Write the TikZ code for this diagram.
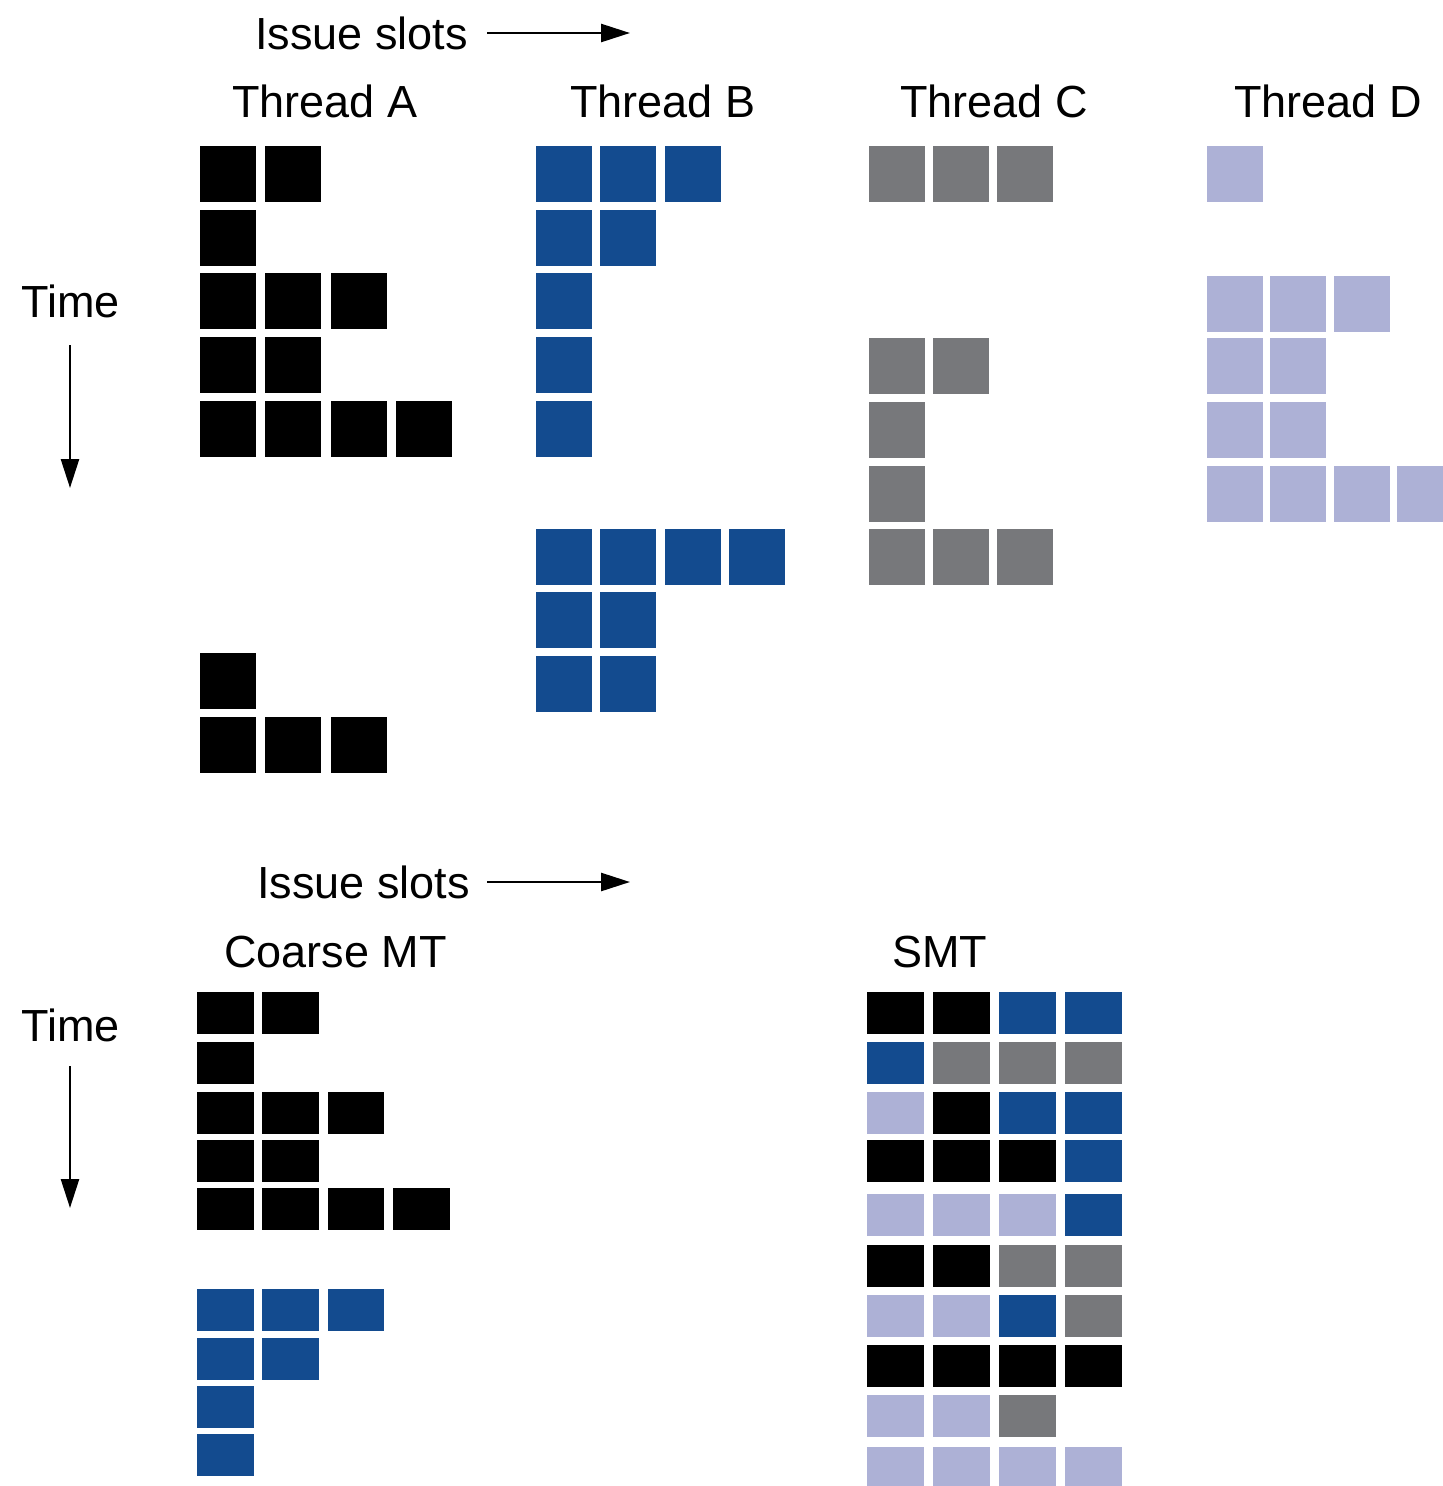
\documentclass[tikz,border=0pt]{standalone}
\usepackage{fontspec}
\setmainfont{Liberation Sans}
\usetikzlibrary{arrows.meta}

% thread colours
\definecolor{thA}{HTML}{000000}
\definecolor{thB}{HTML}{134B8F}
\definecolor{thC}{HTML}{77787B}
\definecolor{thD}{HTML}{ADB1D6}

% a row of n square issue slots of one thread: x0, pitch, y, n, colour
\newcommand\threadrow[5]{%
  \foreach \c in {1,...,#4}{\fill[#5] ({#1+(\c-1)*#2},#3) rectangle ++(56,56);}}
% a row of the coarse-grained multithreaded machine: y, n, colour
\newcommand\coarserow[3]{%
  \foreach \c in {1,...,#2}{\fill[#3] ({197+(\c-1)*65.4},#1) rectangle ++(56.5,42);}}
% a row of the SMT machine: y, list of colours
\newcommand\smtrow[2]{%
  \foreach \col [count=\i from 0] in {#2}{\fill[\col] ({867+66*\i},#1) rectangle ++(57,42);}}

\begin{document}
\begin{tikzpicture}[x=1pt,y=-1pt,
  lbl/.style={anchor=base west, inner sep=0pt, font=\fontsize{45}{52}\selectfont},
  flow/.style={line width=2.6pt, -{Triangle[length=29pt,width=18pt]}}]
\useasboundingbox (0,0) rectangle (1443,1486);
\clip (0,0) rectangle (1443,1486);

% ---------- headings of the four threads ----------
\node[lbl] (issue1) at (255,49) {Issue slots};
\coordinate (issue1S) at (487,33);
\coordinate (issue1E) at (630,33);
\draw[flow] (issue1S) -- (issue1E);

\node[lbl] (thrA) at (232,117) {Thread A};
\node[lbl] (thrB) at (570,117) {Thread B};
\node[lbl] (thrC) at (900,117) {Thread C};
\node[lbl] (thrD) at (1234,117) {Thread D};

\node[lbl] (time1) at (21,317) {Time};
\coordinate (time1S) at (70,345);
\coordinate (time1E) at (70,488);
\draw[flow] (time1S) -- (time1E);

% ---------- Thread A ----------
\threadrow{200}{65.3}{146}{2}{thA}
\threadrow{200}{65.3}{209.5}{1}{thA}
\threadrow{200}{65.3}{273}{3}{thA}
\threadrow{200}{65.3}{337}{2}{thA}
\threadrow{200}{65.3}{401}{4}{thA}
\threadrow{200}{65.3}{653}{1}{thA}
\threadrow{200}{65.3}{717}{3}{thA}

% ---------- Thread B ----------
\threadrow{536}{64.4}{146}{3}{thB}
\threadrow{536}{64.4}{209.5}{2}{thB}
\threadrow{536}{64.4}{273}{1}{thB}
\threadrow{536}{64.4}{337}{1}{thB}
\threadrow{536}{64.4}{401}{1}{thB}
\threadrow{536}{64.4}{529}{4}{thB}
\threadrow{536}{64.4}{592}{2}{thB}
\threadrow{536}{64.4}{656}{2}{thB}

% ---------- Thread C ----------
\threadrow{869}{64}{146}{3}{thC}
\threadrow{869}{64}{338}{2}{thC}
\threadrow{869}{64}{402}{1}{thC}
\threadrow{869}{64}{466}{1}{thC}
\threadrow{869}{64}{529}{3}{thC}

% ---------- Thread D ----------
\threadrow{1207}{63.3}{146}{1}{thD}
\threadrow{1207}{63.3}{276}{3}{thD}
\threadrow{1207}{63.3}{338}{2}{thD}
\threadrow{1207}{63.3}{402}{2}{thD}
\threadrow{1207}{63.3}{466}{4}{thD}

% ---------- headings of the two machines ----------
\node[lbl] (issue2) at (257,898) {Issue slots};
\coordinate (issue2S) at (487,882);
\coordinate (issue2E) at (630,882);
\draw[flow] (issue2S) -- (issue2E);

\node[lbl] (coarse) at (224,967) {Coarse MT};
\node[lbl] (smt) at (892,967) {SMT};

\node[lbl] (time2) at (21,1041) {Time};
\coordinate (time2S) at (70,1066);
\coordinate (time2E) at (70,1208);
\draw[flow] (time2S) -- (time2E);

% ---------- Coarse MT ----------
\coarserow{992}{2}{thA}
\coarserow{1042}{1}{thA}
\coarserow{1092}{3}{thA}
\coarserow{1140}{2}{thA}
\coarserow{1188}{4}{thA}
\coarserow{1289}{3}{thB}
\coarserow{1338}{2}{thB}
\coarserow{1386}{1}{thB}
\coarserow{1434}{1}{thB}

% ---------- SMT ----------
\smtrow{992}{thA,thA,thB,thB}
\smtrow{1042}{thB,thC,thC,thC}
\smtrow{1092}{thD,thA,thB,thB}
\smtrow{1140}{thA,thA,thA,thB}
\smtrow{1194}{thD,thD,thD,thB}
\smtrow{1245}{thA,thA,thC,thC}
\smtrow{1295}{thD,thD,thB,thC}
\smtrow{1345}{thA,thA,thA,thA}
\smtrow{1395}{thD,thD,thC}
\smtrow{1447}{thD,thD,thD,thD}
\end{tikzpicture}
\end{document}
